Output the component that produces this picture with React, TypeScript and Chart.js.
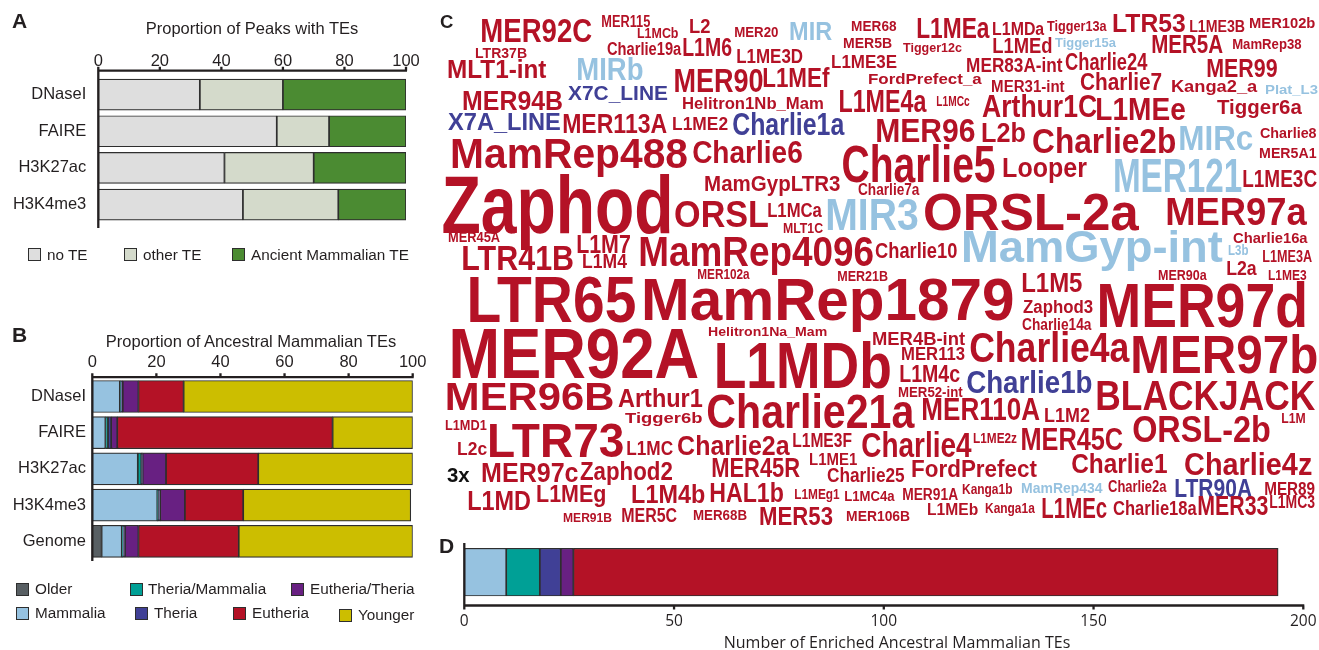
import React, { useEffect, useRef } from "react";
import { Chart, registerables } from "chart.js";

Chart.register(...registerables);

const W = 1319;
const H = 650;
const SANS = '"Liberation Sans", Arial, Helvetica, sans-serif';
const HUMAN = '"Open Sans", "Liberation Sans", Arial, sans-serif';
const INK = "#231f20";
const EDGE = "#2e2e2e";

// ---------- Panel A : proportion of peaks with TEs ----------
const peakCategories = ["DNaseI", "FAIRE", "H3K27ac", "H3K4me3"];
const noTE = [33.0, 58.0, 41.0, 47.0];
const otherTE = [27.0, 17.0, 29.0, 31.0];
const ancientTE = [40.0, 25.0, 30.0, 22.0];
const peakTicks = [0, 20, 40, 60, 80, 100];

// ---------- Panel B : proportion of ancestral mammalian TEs ----------
const ancestralCategories = ["DNaseI", "FAIRE", "H3K27ac", "H3K4me3", "Genome"];
const olderShare = [0, 0, 0, 0, 2.9];
const mammaliaShare = [8.6, 4.1, 14.2, 20.3, 6.3];
const theriaMammaliaShare = [0.2, 0.8, 1.1, 0.2, 0.3];
const theriaShare = [0.7, 1.0, 0.4, 0.7, 0.7];
const eutheriaTheriaShare = [4.9, 1.9, 7.3, 7.7, 4.2];
const eutheriaShare = [14.1, 67.2, 28.8, 18.2, 31.3];
const youngerShare = [71.5, 25.0, 48.2, 52.3, 54.3];

// ---------- Panel D : number of enriched ancestral mammalian TEs ----------
const enrichedCategory = ["Enriched"];
const enrichedMammalia = [10];
const enrichedTheriaMammalia = [8];
const enrichedTheria = [5];
const enrichedEutheriaTheria = [3];
const enrichedEutheria = [168];
const enrichedTicks = [0, 50, 100, 150, 200];

// ---------- Panel C : word cloud of enriched TEs ----------
const cloudWords = [
  "MER92C", "MER115", "L1MCb", "L2", "MER20", "MIR", "MER68", "L1MEa", "L1MDa", "Tigger13a", "LTR53", "L1ME3B", "MER102b",
  "LTR37B", "Charlie19a", "L1M6", "L1ME3D", "MER5B", "Tigger12c", "L1MEd", "Tigger15a", "MER5A", "MamRep38",
  "MLT1-int", "MIRb", "L1ME3E", "MER83A-int", "Charlie24", "MER99",
  "MER90", "L1MEf", "FordPrefect_a", "MER31-int", "Charlie7", "Kanga2_a", "Plat_L3",
  "MER94B", "X7C_LINE", "Helitron1Nb_Mam", "L1ME4a", "L1MCc", "Arthur1C", "L1MEe", "Tigger6a",
  "X7A_LINE", "MER113A", "L1ME2", "Charlie1a", "MER96", "L2b", "Charlie2b", "MIRc", "Charlie8",
  "MamRep488", "Charlie6", "MER5A1", "Charlie5", "Looper", "MER121", "L1ME3C",
  "Zaphod", "MamGypLTR3", "Charlie7a", "ORSL", "L1MCa", "MLT1C", "MIR3", "ORSL-2a", "MER97a",
  "MER45A", "Charlie16a", "L1M7", "MamRep4096", "Charlie10", "MamGyp-int", "L3b", "L1ME3A", "LTR41B", "L1M4",
  "MER102a", "MER21B", "L2a", "MER90a", "L1ME3",
  "LTR65", "MamRep1879", "L1M5", "MER97d", "Zaphod3", "Charlie14a",
  "Helitron1Na_Mam", "MER92A", "L1MDb", "MER4B-int", "MER113", "Charlie4a", "MER97b", "L1M4c", "MER52-int", "Charlie1b", "BLACKJACK",
  "MER96B", "Arthur1", "Charlie21a", "MER110A", "L1M2", "ORSL-2b", "L1M",
  "Tigger6b", "L1MD1", "LTR73", "L2c", "L1MC", "Charlie2a", "L1ME3F", "Charlie4", "L1ME2z", "MER45C", "Charlie1", "Charlie4z",
  "3x", "MER97c", "Zaphod2", "MER45R", "L1ME1", "Charlie25", "FordPrefect", "MamRep434", "Charlie2a", "LTR90A", "MER89",
  "L1MD", "L1MEg", "L1M4b", "HAL1b", "L1MEg1", "L1MC4a", "MER91A", "Kanga1b", "L1MEb", "Kanga1a", "L1MEc", "Charlie18a", "MER33", "L1MC3",
  "MER91B", "MER5C", "MER68B", "MER53", "MER106B",
];
// clade membership of the words (all others are Eutheria)
const mammaliaWords = ["MIR", "Tigger15a", "MIRb", "Plat_L3", "MIRc", "MER121", "MIR3", "MamGyp-int", "L3b", "MamRep434"];
const theriaWords = ["X7C_LINE", "X7A_LINE", "Charlie1a", "Charlie1b", "LTR90A"];
const noteWords = ["3x"];
// placement of each word in the cloud: [left, right, cap top, baseline]
const cloudBox: number[][] = [
  [482, 592, 18, 42], [602, 650, 15, 27], [637, 678, 28, 38], [690, 710, 18, 33], [735, 778, 26, 37], [790, 832, 22, 40], [852, 897, 20, 31], [917, 990, 17, 38], [993, 1045, 22, 35], [1047, 1107, 20, 31], [1113, 1185, 13, 32], [1190, 1245, 20, 32], [1250, 1315, 17, 28],
  [475, 527, 48, 58], [607, 682, 42, 55], [683, 732, 38, 56], [737, 803, 48, 63], [843, 892, 38, 48], [903, 962, 43, 52], [993, 1052, 37, 53], [1055, 1117, 38, 47], [1152, 1223, 35, 53], [1233, 1302, 38, 49],
  [448, 547, 60, 78], [578, 643, 57, 80], [832, 897, 55, 68], [967, 1063, 58, 72], [1065, 1148, 53, 70], [1207, 1277, 58, 77],
  [675, 763, 68, 92], [763, 830, 67, 87], [868, 982, 74, 84], [992, 1065, 80, 92], [1080, 1162, 73, 90], [1172, 1258, 80, 92], [1265, 1318, 85, 94],
  [463, 562, 90, 110], [568, 668, 85, 100], [683, 823, 97, 109], [840, 927, 90, 112], [937, 970, 95, 106], [982, 1097, 95, 117], [1097, 1185, 97, 120], [1217, 1302, 100, 114],
  [448, 560, 113, 130], [563, 667, 113, 133], [673, 728, 117, 130], [733, 845, 113, 135], [877, 975, 118, 142], [982, 1025, 122, 142], [1033, 1175, 128, 153], [1180, 1253, 125, 150], [1260, 1317, 127, 138],
  [452, 687, 137, 168], [693, 802, 140, 163], [1260, 1317, 147, 158], [843, 995, 145, 182], [1003, 1087, 157, 177], [1115, 1242, 158, 192], [1243, 1317, 170, 187],
  [443, 670, 175, 233], [705, 840, 175, 191], [858, 920, 183, 195], [675, 768, 200, 227], [768, 822, 203, 217], [783, 823, 223, 233], [827, 918, 198, 230], [925, 1140, 193, 230], [1167, 1307, 197, 225],
  [448, 500, 232, 242], [1233, 1308, 232, 243], [577, 630, 235, 253], [640, 873, 236, 266], [875, 957, 242, 258], [963, 1223, 230, 262], [1228, 1248, 245, 255], [1263, 1312, 250, 262], [463, 573, 245, 270], [583, 627, 254, 268],
  [698, 750, 268, 279], [838, 888, 270, 281], [1227, 1257, 260, 275], [1158, 1207, 270, 280], [1268, 1307, 270, 280],
  [470, 635, 275, 322], [645, 1013, 277, 320], [1022, 1082, 272, 292], [1100, 1305, 282, 327], [1023, 1093, 300, 313], [1022, 1092, 318, 330],
  [708, 827, 327, 336], [452, 698, 327, 378], [717, 890, 342, 388], [873, 965, 332, 345], [902, 965, 347, 360], [970, 1130, 332, 362], [1133, 1317, 335, 373], [900, 960, 365, 382], [898, 963, 387, 397], [967, 1092, 370, 393], [1097, 1315, 380, 410],
  [447, 613, 382, 410], [618, 703, 388, 407], [708, 915, 393, 428], [923, 1040, 398, 420], [1045, 1090, 408, 422], [1133, 1270, 415, 442], [1282, 1305, 412, 423],
  [625, 702, 412, 423], [445, 487, 420, 430], [490, 623, 423, 457], [458, 487, 442, 455], [627, 673, 440, 455], [678, 790, 435, 455], [793, 852, 433, 447], [862, 972, 432, 457], [973, 1017, 433, 443], [1022, 1123, 427, 450], [1072, 1167, 453, 473], [1185, 1312, 453, 475],
  [447, 470, 467, 482], [482, 578, 462, 482], [580, 672, 462, 480], [712, 800, 457, 477], [810, 857, 453, 465], [827, 905, 467, 482], [912, 1037, 460, 477], [1022, 1103, 482, 493], [1108, 1167, 480, 492], [1175, 1252, 478, 497], [1265, 1315, 482, 495],
  [468, 530, 490, 510], [537, 605, 485, 502], [632, 705, 484, 503], [710, 783, 482, 502], [795, 840, 488, 499], [845, 895, 490, 501], [903, 958, 488, 500], [962, 1012, 484, 494], [928, 978, 503, 515], [985, 1035, 503, 513], [1042, 1107, 497, 518], [1113, 1197, 500, 515], [1198, 1268, 495, 515], [1270, 1315, 495, 508],
  [563, 612, 513, 522], [622, 677, 508, 522], [693, 747, 510, 520], [760, 833, 507, 525], [847, 910, 510, 521],
];

// ---------- colours ----------
const C_NOTE = "#dedede";
const C_OTHER = "#d4dacb";
const C_ANCIENT = "#4b8b32";
const C_OLDER = "#585f63";
const C_MAMMALIA = "#96c2e0";
const C_THERIA_MAM = "#00a096";
const C_THERIA = "#404096";
const C_EUTH_THERIA = "#682082";
const C_EUTHERIA = "#b41226";
const C_YOUNGER = "#ccbe00";

function wordColor(w: string) {
  if (mammaliaWords.includes(w)) return C_MAMMALIA;
  if (theriaWords.includes(w)) return C_THERIA;
  if (noteWords.includes(w)) return "#111111";
  return C_EUTHERIA;
}

type AxisOpts = { atTop: boolean; lineOffset: number; tickDir: number; tickLen: number; leftTop: number; leftBottom: number };

function axisLinesPlugin(o: AxisOpts) {
  return {
    id: "axisLines",
    afterDraw(chart: any) {
      const { ctx, chartArea: a } = chart;
      const xs = chart.scales.x;
      const y = o.atTop ? a.top - o.lineOffset : a.bottom + o.lineOffset;
      ctx.save();
      ctx.strokeStyle = INK;
      ctx.lineWidth = 2.3;
      ctx.beginPath();
      ctx.moveTo(xs.getPixelForValue(xs.min) - 1.1, y);
      ctx.lineTo(xs.getPixelForValue(xs.max) + 1, y);
      for (const t of xs.ticks) {
        const px = xs.getPixelForValue(t.value);
        ctx.moveTo(px, y);
        ctx.lineTo(px, y + o.tickDir * o.tickLen);
      }
      ctx.moveTo(a.left, a.top - o.leftTop);
      ctx.lineTo(a.left, a.bottom + o.leftBottom);
      ctx.stroke();
      ctx.restore();
    },
  };
}

type Area = { left: number; right: number; top: number; bottom: number };

function stackedConfig(opts: {
  labels: string[];
  series: { label: string; data: number[]; color: string }[];
  area: Area;
  barThickness: number;
  xMax: number;
  ticks: number[];
  xTop: boolean;
  xFont: any;
  xPad: number;
  yFont: any;
  yPad: number;
  yWidth: number;
  showY: boolean;
  axis: AxisOpts;
}): any {
  const xHeight = 30;
  const a = opts.area;
  const padding = {
    left: a.left - opts.yWidth,
    right: W - a.right,
    top: opts.xTop ? a.top - xHeight : a.top,
    bottom: opts.xTop ? H - a.bottom : H - a.bottom - xHeight,
  };
  return {
    type: "bar",
    data: {
      labels: opts.labels,
      datasets: opts.series.map((s) => ({
        label: s.label,
        data: s.data,
        backgroundColor: s.color,
        borderColor: EDGE,
        borderWidth: 1.2,
        borderSkipped: false,
        barThickness: opts.barThickness,
      })),
    },
    options: {
      indexAxis: "y",
      animation: false,
      responsive: false,
      events: [],
      layout: { padding },
      plugins: { legend: { display: false }, title: { display: false }, tooltip: { enabled: false } },
      scales: {
        x: {
          type: "linear",
          position: opts.xTop ? "top" : "bottom",
          stacked: true,
          min: 0,
          max: opts.xMax,
          afterBuildTicks: (s: any) => {
            s.ticks = opts.ticks.map((v) => ({ value: v }));
          },
          // label offset is carried by an invisible tick length so it does not widen the side padding
          ticks: { padding: 0, color: INK, font: opts.xFont, maxRotation: 0, autoSkip: false },
          grid: { display: false, drawTicks: true, tickLength: opts.xPad },
          border: { display: false },
          afterFit: (s: any) => {
            s.height = xHeight;
          },
        },
        y: {
          type: "category",
          stacked: true,
          ticks: { display: opts.showY, padding: opts.yPad, color: INK, font: opts.yFont, autoSkip: false },
          grid: { display: false, drawTicks: false },
          border: { display: false },
          afterFit: (s: any) => {
            s.width = opts.yWidth;
          },
        },
      },
    },
    plugins: [axisLinesPlugin(opts.axis)],
  };
}

function configA() {
  return stackedConfig({
    labels: peakCategories,
    series: [
      { label: "no TE", data: noTE, color: C_NOTE },
      { label: "other TE", data: otherTE, color: C_OTHER },
      { label: "Ancient Mammalian TE", data: ancientTE, color: C_ANCIENT },
    ],
    area: { left: 98.3, right: 406, top: 76.2, bottom: 223 },
    barThickness: 31,
    xMax: 100,
    ticks: peakTicks,
    xTop: true,
    xFont: { family: SANS, size: 16.5 },
    xPad: 5.3,
    yFont: { family: SANS, size: 16.5 },
    yPad: 12,
    yWidth: 90,
    showY: true,
    axis: { atTop: true, lineOffset: 5.5, tickDir: -1, tickLen: 4, leftTop: 5.5, leftBottom: 5 },
  });
}

function configB() {
  return stackedConfig({
    labels: ancestralCategories,
    series: [
      { label: "Older", data: olderShare, color: C_OLDER },
      { label: "Mammalia", data: mammaliaShare, color: C_MAMMALIA },
      { label: "Theria/Mammalia", data: theriaMammaliaShare, color: C_THERIA_MAM },
      { label: "Theria", data: theriaShare, color: C_THERIA },
      { label: "Eutheria/Theria", data: eutheriaTheriaShare, color: C_EUTH_THERIA },
      { label: "Eutheria", data: eutheriaShare, color: C_EUTHERIA },
      { label: "Younger", data: youngerShare, color: C_YOUNGER },
    ],
    area: { left: 92.3, right: 412.7, top: 378.4, bottom: 559.4 },
    barThickness: 32,
    xMax: 100,
    ticks: peakTicks,
    xTop: true,
    xFont: { family: SANS, size: 16.5 },
    xPad: 6,
    yFont: { family: SANS, size: 16.5 },
    yPad: 6.3,
    yWidth: 84,
    showY: true,
    axis: { atTop: true, lineOffset: 1.2, tickDir: -1, tickLen: 4, leftTop: 1.2, leftBottom: 1.5 },
  });
}

function configD() {
  return stackedConfig({
    labels: enrichedCategory,
    series: [
      { label: "Mammalia", data: enrichedMammalia, color: C_MAMMALIA },
      { label: "Theria/Mammalia", data: enrichedTheriaMammalia, color: C_THERIA_MAM },
      { label: "Theria", data: enrichedTheria, color: C_THERIA },
      { label: "Eutheria/Theria", data: enrichedEutheriaTheria, color: C_EUTH_THERIA },
      { label: "Eutheria", data: enrichedEutheria, color: C_EUTHERIA },
    ],
    area: { left: 464.3, right: 1303.3, top: 543, bottom: 601.3 },
    barThickness: 47.7,
    xMax: 200,
    ticks: enrichedTicks,
    xTop: false,
    xFont: { family: HUMAN, size: 15.5 },
    xPad: 11,
    yFont: { family: SANS, size: 12 },
    yPad: 0,
    yWidth: 0,
    showY: false,
    axis: { atTop: false, lineOffset: 4.2, tickDir: 1, tickLen: 4, leftTop: 0, leftBottom: 6 },
  });
}

const wordCloudPlugin = {
  id: "wordCloud",
  afterDatasetsDraw(chart: any) {
    const { ctx } = chart;
    const xs = chart.scales.x;
    const ys = chart.scales.y;
    ctx.save();
    ctx.textAlign = "left";
    ctx.textBaseline = "alphabetic";
    cloudWords.forEach((w, i) => {
      const [bx0, bx1, bt, bb] = cloudBox[i];
      const x0 = xs.getPixelForValue(bx0);
      const x1 = xs.getPixelForValue(bx1);
      const yt = ys.getPixelForValue(bt);
      const yb = ys.getPixelForValue(bb);
      const fs = (yb - yt) / 0.716;
      ctx.font = `bold ${fs}px ${SANS}`;
      const m = ctx.measureText(w);
      const ink = m.actualBoundingBoxLeft + m.actualBoundingBoxRight;
      const sx = (x1 - x0) / ink;
      ctx.fillStyle = wordColor(w);
      ctx.save();
      ctx.translate(x0, yb);
      ctx.scale(sx, 1);
      ctx.fillText(w, m.actualBoundingBoxLeft, 0);
      ctx.restore();
    });
    ctx.restore();
  },
};

function configC(): any {
  return {
    type: "scatter",
    data: {
      datasets: [
        {
          label: "words",
          data: cloudWords.map((_, i) => ({ x: cloudBox[i][0], y: cloudBox[i][3] })),
          pointRadius: 0,
        },
      ],
    },
    options: {
      animation: false,
      responsive: false,
      events: [],
      layout: { padding: 0 },
      plugins: { legend: { display: false }, tooltip: { enabled: false } },
      scales: {
        x: { type: "linear", min: 0, max: W, display: false },
        y: { type: "linear", min: 0, max: H, reverse: true, display: false },
      },
    },
    plugins: [wordCloudPlugin],
  };
}

function ChartCanvas({ make }: { make: () => any }) {
  const ref = useRef<HTMLCanvasElement>(null);
  useEffect(() => {
    const chart = new Chart(ref.current as HTMLCanvasElement, make());
    return () => chart.destroy();
  }, []);
  return (
    <canvas
      ref={ref}
      width={W}
      height={H}
      style={{ position: "absolute", left: 0, top: 0, width: W, height: H }}
    />
  );
}

function Txt(props: {
  x: number;
  base: number;
  size: number;
  text: string;
  family?: string;
  weight?: number;
  center?: boolean;
  asc?: number;
  color?: string;
}) {
  const asc = props.asc ?? 0.8465;
  return (
    <div
      style={{
        position: "absolute",
        left: props.x,
        top: props.base - asc * props.size,
        fontSize: props.size,
        lineHeight: `${props.size}px`,
        fontFamily: props.family ?? SANS,
        fontWeight: props.weight ?? 400,
        color: props.color ?? INK,
        whiteSpace: "nowrap",
        transform: props.center ? "translateX(-50%)" : undefined,
      }}
    >
      {props.text}
    </div>
  );
}

function Swatch({ x, y, size, color }: { x: number; y: number; size: number; color: string }) {
  return (
    <div
      style={{
        position: "absolute",
        left: x,
        top: y,
        width: size,
        height: size,
        background: color,
        border: `1.2px solid ${EDGE}`,
        boxSizing: "border-box",
      }}
    />
  );
}

export default function App() {
  return (
    <div
      style={{
        position: "fixed",
        left: 0,
        top: 0,
        width: W,
        height: H,
        background: "#ffffff",
        overflow: "hidden",
      }}
    >
      <ChartCanvas make={configC} />
      <ChartCanvas make={configA} />
      <ChartCanvas make={configB} />
      <ChartCanvas make={configD} />

      {/* panel letters */}
      <Txt x={12} base={28} size={21} weight={700} text="A" />
      <Txt x={12} base={342} size={21} weight={700} text="B" />
      <Txt x={440} base={28.5} size={18.5} weight={700} text="C" />
      <Txt x={439} base={553} size={21} weight={700} text="D" />

      {/* titles */}
      <Txt x={252} base={34} size={16.5} center text="Proportion of Peaks with TEs" />
      <Txt x={251} base={346.7} size={16.5} center text="Proportion of Ancestral Mammalian TEs" />
      <Txt x={897} base={648} size={16} center family={HUMAN} asc={0.888} text="Number of Enriched Ancestral Mammalian TEs" />

      {/* legend A */}
      <Swatch x={28} y={248} size={13} color={C_NOTE} />
      <Txt x={47} base={260} size={15.3} text="no TE" />
      <Swatch x={124} y={248} size={13} color={C_OTHER} />
      <Txt x={143} base={260} size={15.3} text="other TE" />
      <Swatch x={232} y={248} size={13} color={C_ANCIENT} />
      <Txt x={251} base={260} size={15.3} text="Ancient Mammalian TE" />

      {/* legend B */}
      <Swatch x={16} y={583} size={13} color={C_OLDER} />
      <Txt x={35} base={594} size={15.3} text="Older" />
      <Swatch x={130} y={583} size={13} color={C_THERIA_MAM} />
      <Txt x={148} base={594} size={15.3} text="Theria/Mammalia" />
      <Swatch x={291} y={583} size={13} color={C_EUTH_THERIA} />
      <Txt x={310} base={594} size={15.3} text="Eutheria/Theria" />
      <Swatch x={16} y={607} size={13} color={C_MAMMALIA} />
      <Txt x={35} base={618} size={15.3} text="Mammalia" />
      <Swatch x={135} y={607} size={13} color={C_THERIA} />
      <Txt x={154} base={618} size={15.3} text="Theria" />
      <Swatch x={233} y={607} size={13} color={C_EUTHERIA} />
      <Txt x={252} base={618} size={15.3} text="Eutheria" />
      <Swatch x={339} y={609} size={13} color={C_YOUNGER} />
      <Txt x={358} base={620} size={15.3} text="Younger" />
    </div>
  );
}
